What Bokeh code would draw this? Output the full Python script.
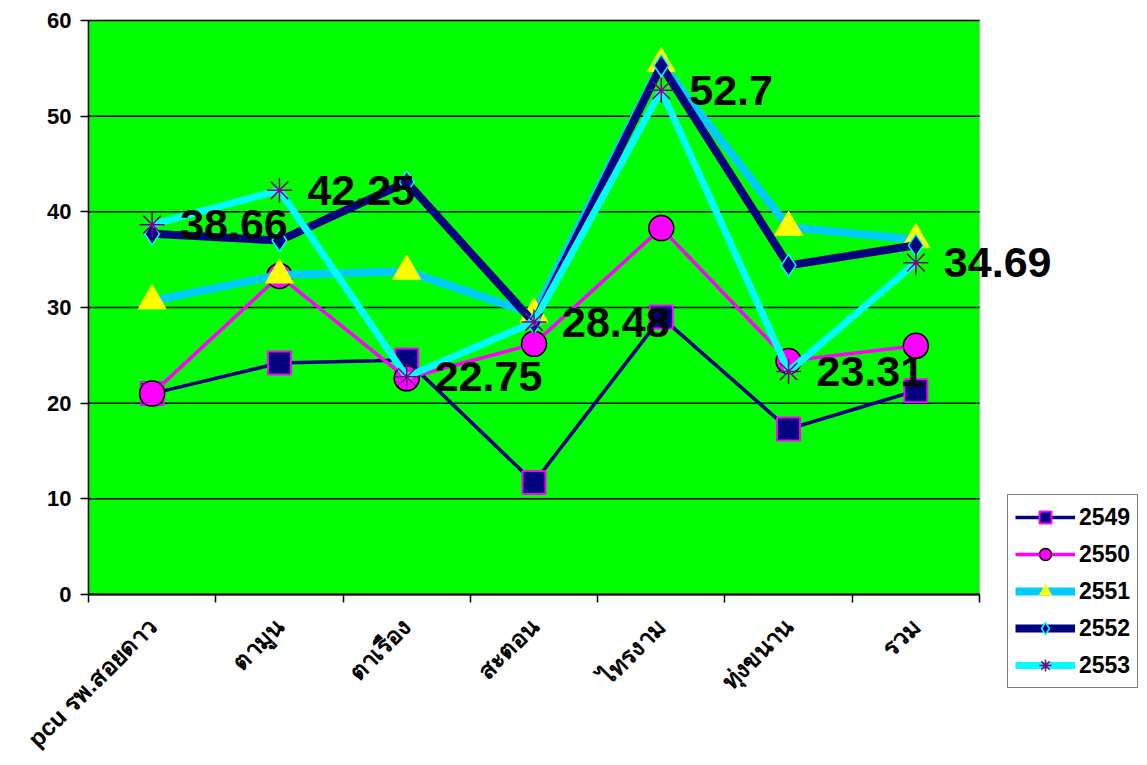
from bokeh.plotting import figure
from bokeh.models import (Range1d, FixedTicker, Legend, LegendItem, ColumnDataSource, BoxAnnotation)
from bokeh.core.properties import value
from bokeh.embed import file_html
from bokeh.resources import INLINE
import math

categories = ["pcu รพ.สอยดาว", "ตามูน", "ตาเรือง", "สะตอน", "ไทรงาม", "ทุ่งขนาน", "รวม"]
y2549 = [21.0, 24.2, 24.5, 11.7, 29.0, 17.3, 21.3]
y2550 = [21.0, 33.3, 22.6, 26.2, 38.3, 24.4, 26.0]
y2551 = [30.7, 33.4, 33.8, 29.3, 55.5, 38.4, 37.1]
y2552 = [37.7, 37.0, 43.1, 28.4, 55.3, 34.4, 36.5]
y2553 = [38.66, 42.25, 22.75, 28.48, 52.7, 23.31, 34.69]
y_ticks = [0, 10, 20, 30, 40, 50, 60]

n = len(categories)
xs = [i + 0.5 for i in range(n)]
FONT = "Liberation Sans"

W, H = 1147, 765
LEFT, TOP = 88, 20                 # pixel position of the plotting area's top-left corner
PLOT_W, PLOT_H = 891, 574          # size of the green plotting area in pixels
px_x = PLOT_W / n
px_y = PLOT_H / 60.0

p = figure(width=W, height=H, output_backend="svg", toolbar_location=None,
           x_range=Range1d(-LEFT / px_x, (W - LEFT) / px_x),
           y_range=Range1d(60 - (H - TOP) / px_y, 60 + TOP / px_y),
           min_border_left=0, min_border_top=0, min_border_right=0, min_border_bottom=0)
p.background_fill_color = "white"
p.border_fill_color = "white"
p.outline_line_color = None
p.xgrid.grid_line_color = None
p.ygrid.grid_line_color = None

# green plot area with grey top/right border
p.add_layout(BoxAnnotation(left=0, right=n, bottom=0, top=60, fill_color="#00FF00", fill_alpha=1,
                           line_color="#808080", line_width=2, level="underlay"))
# horizontal gridlines
p.segment(x0=[0] * len(y_ticks), x1=[n] * len(y_ticks), y0=y_ticks, y1=y_ticks,
          line_color="black", line_width=1.5)

# x axis at y = 0
xa = p.xaxis[0]
xa.fixed_location = 0
xa.bounds = (0, n)
xa.ticker = FixedTicker(ticks=xs, minor_ticks=list(range(n + 1)))
xa.major_label_overrides = {x: c for x, c in zip(xs, categories)}
xa.major_label_orientation = math.pi / 4
xa.major_tick_out = 0
xa.major_tick_in = 0
xa.minor_tick_out = 8
xa.minor_tick_in = 0
xa.minor_tick_line_color = "black"
xa.minor_tick_line_width = 1.5
xa.axis_line_color = "black"
xa.axis_line_width = 2
xa.major_label_text_font = FONT
xa.major_label_text_font_style = "bold"
xa.major_label_text_font_size = "24px"
xa.major_label_text_color = "black"
xa.major_label_standoff = 20

# y axis at x = 0
ya = p.yaxis[0]
ya.fixed_location = 0
ya.bounds = (0, 60)
ya.ticker = FixedTicker(ticks=y_ticks)
ya.minor_tick_line_color = None
ya.major_tick_out = 8
ya.major_tick_in = 0
ya.major_tick_line_color = "black"
ya.major_tick_line_width = 1.5
ya.axis_line_color = "black"
ya.axis_line_width = 1.5
ya.major_label_text_font = FONT
ya.major_label_text_font_style = "bold"
ya.major_label_text_font_size = "22px"
ya.major_label_text_color = "black"
ya.major_label_standoff = 9

items = []

def series(name, ys, lcolor, lwidth, marker, msize, fill, mline, mlw=1.5):
    src = ColumnDataSource(dict(x=xs, y=ys))
    r1 = p.line("x", "y", source=src, line_color=lcolor, line_width=lwidth)
    r2 = p.scatter("x", "y", source=src, marker=marker, size=msize, fill_color=fill,
                   line_color=mline, line_width=mlw)
    items.append(LegendItem(label=name, renderers=[r1, r2]))

series("2549", y2549, "#000080", 3.5, "square", 23, "#000080", "#FF00FF", 2)
series("2550", y2550, "#FF00FF", 3.5, "circle", 25, "#FF00FF", "black", 1.5)
series("2551", y2551, "#00CCFF", 8, "triangle", 28, "#FFFF00", "#FFFF00", 1)
series("2552", y2552, "#000080", 8, "diamond", 22, "#000080", "#00FFFF", 1.5)
series("2553", y2553, "#00FFFF", 7, "asterisk", 25, None, "#800080", 1.5)

lbl = ColumnDataSource(dict(x=xs, y=y2553, t=[f"{v:g}" for v in y2553]))
p.text("x", "y", text="t", source=lbl, x_offset=28, text_baseline="middle", text_align="left",
       text_font=value(FONT), text_font_style="bold", text_font_size="43px", text_color="black")

legend = Legend(items=items, location=(1007, H - 688), orientation="vertical")
legend.border_line_color = "black"
legend.border_line_width = 1.5
legend.background_fill_color = "white"
legend.background_fill_alpha = 1
legend.label_text_font = FONT
legend.label_text_font_style = "bold"
legend.label_text_font_size = "23px"
legend.label_text_color = "black"
legend.glyph_width = 60
legend.glyph_height = 30
legend.label_height = 30
legend.spacing = 7
legend.padding = 7
legend.margin = 0
legend.label_standoff = 4
p.add_layout(legend, "center")

open("out.html", "w").write(file_html(p, INLINE))
